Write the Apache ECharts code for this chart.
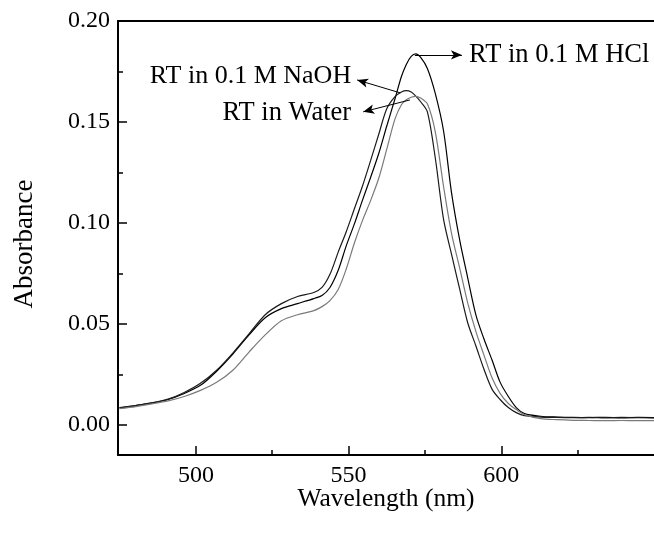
<!DOCTYPE html>
<html>
<head>
<meta charset="utf-8">
<script src="https://cdn.jsdelivr.net/npm/echarts@6/dist/echarts.min.js"></script>
<style>
  html, body { margin: 0; padding: 0; background: #fff; }
  #chart { width: 654px; height: 535px; }
</style>
</head>
<body>
<div id="chart"></div>
<script>
// wavelength (nm) of the points, shared by the three spectra
const wavelength = [475.0, 480.3, 485.6, 490.9, 496.2, 501.5, 506.8, 512.1, 517.4, 522.7, 528.0, 533.3, 538.6, 541.3, 543.9,
  546.6, 549.2, 551.9, 554.5, 557.2, 559.9, 562.5, 565.2, 567.3, 568.9, 570.5, 572.0, 573.6, 575.8, 578.4, 581.1, 583.7,
  586.4, 589.0, 591.7, 594.3, 597.0, 599.6, 602.3, 604.9, 607.6, 612.9, 618.2, 623.5, 628.8, 634.1, 639.4, 644.7, 650.0];

// absorbance
const hclAbs = [0.0085, 0.0095, 0.0108, 0.0125, 0.0155, 0.0195, 0.0265, 0.035, 0.0445, 0.053, 0.0575, 0.060, 0.0625, 0.064, 0.068, 0.0765,
  0.0885, 0.0995, 0.111, 0.1225, 0.1345, 0.148, 0.1615, 0.1725, 0.1785, 0.1825, 0.1837, 0.182, 0.1765, 0.164, 0.1455, 0.115,
  0.0913, 0.0728, 0.0543, 0.0426, 0.0319, 0.0211, 0.014, 0.0085, 0.0055, 0.0042, 0.0038, 0.0036, 0.0035, 0.0037, 0.0034, 0.0036, 0.0035];
const naohAbs = [0.0083, 0.0095, 0.0108, 0.0127, 0.016, 0.0205, 0.027, 0.0355, 0.045, 0.0545, 0.060, 0.0635, 0.0655, 0.068, 0.0745, 0.0855,
  0.0955, 0.107, 0.118, 0.1308, 0.144, 0.1565, 0.1625, 0.1648, 0.1655, 0.1648, 0.1628, 0.160, 0.155, 0.132, 0.1017, 0.0845,
  0.067, 0.0505, 0.039, 0.0276, 0.0175, 0.0125, 0.0085, 0.006, 0.0045, 0.0038, 0.0036, 0.0035, 0.0036, 0.0034, 0.0036, 0.0035, 0.0034];
const waterAbs = [0.008, 0.009, 0.0103, 0.0118, 0.014, 0.017, 0.021, 0.027, 0.036, 0.0445, 0.0515, 0.0545, 0.0565, 0.0585, 0.0615, 0.067,
  0.077, 0.090, 0.101, 0.111, 0.1222, 0.1365, 0.1515, 0.1585, 0.161, 0.1622, 0.1627, 0.1618, 0.159, 0.145, 0.118, 0.0948,
  0.0775, 0.0604, 0.0461, 0.0346, 0.0231, 0.0155, 0.0105, 0.0075, 0.005, 0.003, 0.0025, 0.0022, 0.0021, 0.002, 0.0021, 0.002, 0.002];

const xMajorTicks = [500, 550, 600];
const xMinorTicks = [525, 575, 625];
const yMajorTicks = [0, 0.05, 0.10, 0.15, 0.20];
const yMinorTicks = [0.025, 0.075, 0.125, 0.175];

// annotation anchors, in data units: arrow from curve to label
const hclArrow = [[571.7, 0.1832], [587.1, 0.1832]];
const naohArrow = [[566.9, 0.1644], [552.8, 0.1708]];
const waterArrow = [[570.1, 0.1609], [554.8, 0.1550]];
const hclLabelAt = [588.8, 0.1832];
const naohLabelAt = [551.5, 0.1728];
const waterLabelAt = [551.5, 0.1545];

const FONT = '"Liberation Serif", "DejaVu Serif", "Times New Roman", serif';
const X_MIN = 474.5, X_MAX = 650;
const Y_MIN = -0.015, Y_MAX = 0.20;

const chart = echarts.init(document.getElementById('chart'));

const pairs = ys => wavelength.map((w, i) => [w, ys[i]]);

const tickStyle = { color: '#000', width: 1.5 };

const arrow = (pts) => ({
  silent: true,
  animation: false,
  symbol: ['none', 'arrow'],
  symbolSize: [7, 11],
  lineStyle: { color: '#000', width: 1, type: 'solid' },
  label: { show: false },
  emphasis: { disabled: true },
  data: [[{ coord: pts[0] }, { coord: pts[1] }]]
});

const note = (at, text, side, size) => ({
  silent: true,
  animation: false,
  symbol: 'circle',
  symbolSize: 0,
  label: {
    show: true, position: side, distance: 2, formatter: text,
    fontFamily: FONT, fontSize: size, color: '#000'
  },
  data: [{ coord: at }]
});

const spectrum = (name, ys, color, arrowPts, labelAt, text, side, size) => ({
  name: name,
  type: 'line',
  data: pairs(ys),
  xAxisIndex: 0,
  yAxisIndex: 0,
  showSymbol: false,
  smooth: 0.3,
  clip: true,
  lineStyle: { color: color, width: 1.2 },
  markLine: arrow(arrowPts),
  markPoint: note(labelAt, text, side, size)
});

chart.setOption({
  animation: false,
  backgroundColor: '#fff',
  grid: { left: 118, right: 0, top: 21, bottom: 80 },
  xAxis: [
    {
      type: 'value', position: 'bottom', min: X_MIN, max: X_MAX,
      name: 'Wavelength (nm)', nameLocation: 'middle', nameGap: 31, nameMoveOverlap: false,
      nameTextStyle: { fontFamily: FONT, fontSize: 25.5, color: '#000' },
      axisLine: { show: true, onZero: false, lineStyle: { color: '#000', width: 2 } },
      axisTick: { show: true, inside: true, length: 9, customValues: xMajorTicks, lineStyle: tickStyle },
      axisLabel: { customValues: xMajorTicks, fontFamily: FONT, fontSize: 24, color: '#000', margin: 9 },
      splitLine: { show: false }
    },
    {
      type: 'value', position: 'bottom', min: X_MIN, max: X_MAX,
      axisLine: { show: false, onZero: false },
      axisTick: { show: true, inside: true, length: 5, customValues: xMinorTicks, lineStyle: tickStyle },
      axisLabel: { show: false },
      splitLine: { show: false }
    },
    {
      type: 'value', position: 'top', min: X_MIN, max: X_MAX,
      axisLine: { show: true, onZero: false, lineStyle: { color: '#000', width: 2 } },
      axisTick: { show: false },
      axisLabel: { show: false },
      splitLine: { show: false }
    }
  ],
  yAxis: [
    {
      type: 'value', position: 'left', min: Y_MIN, max: Y_MAX,
      name: 'Absorbance', nameLocation: 'middle', nameGap: 80, nameMoveOverlap: false,
      nameTextStyle: { fontFamily: FONT, fontSize: 27, color: '#000', padding: [0, 12, 0, 0] },
      axisLine: { show: true, onZero: false, lineStyle: { color: '#000', width: 2 } },
      axisTick: { show: true, inside: true, length: 9, customValues: yMajorTicks, lineStyle: tickStyle },
      axisLabel: {
        customValues: yMajorTicks, fontFamily: FONT, fontSize: 24, color: '#000', margin: 8,
        formatter: v => v.toFixed(2)
      },
      splitLine: { show: false }
    },
    {
      type: 'value', position: 'left', min: Y_MIN, max: Y_MAX,
      axisLine: { show: false, onZero: false },
      axisTick: { show: true, inside: true, length: 5, customValues: yMinorTicks, lineStyle: tickStyle },
      axisLabel: { show: false },
      splitLine: { show: false }
    }
  ],
  series: [
    spectrum('RT in 0.1 M HCl', hclAbs, '#000', hclArrow, hclLabelAt, 'RT in 0.1 M HCl', 'right', 26.5),
    spectrum('RT in 0.1 M NaOH', naohAbs, '#1a1a1a', naohArrow, naohLabelAt, 'RT in 0.1 M NaOH', 'left', 26),
    spectrum('RT in Water', waterAbs, '#7a7a7a', waterArrow, waterLabelAt, 'RT in Water', 'left', 26.5)
  ]
});
</script>
</body>
</html>
